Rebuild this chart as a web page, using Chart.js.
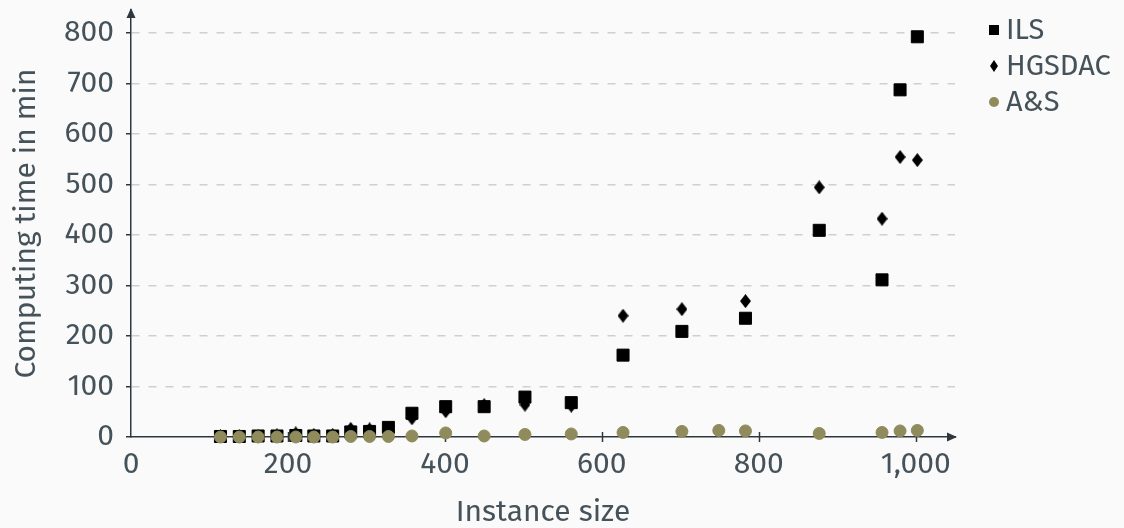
<!DOCTYPE html>
<html lang="en">
<head>
<meta charset="utf-8">
<title>Computing time by instance size</title>
<script src="https://cdn.jsdelivr.net/npm/chart.js@4.4.0/dist/chart.umd.min.js"></script>
<style>
  html, body { margin: 0; padding: 0; background: #fafafa; }
  #wrap { width: 1124px; height: 528px; }
</style>
</head>
<body>
<div id="wrap"><canvas id="timeChart" width="1124" height="528"></canvas></div>
<script>
  // values (minutes), null = no run for that size
  const instanceSizes = [114, 138, 162, 186, 210, 233, 257, 280, 304, 328, 358, 401, 450, 502, 561, 627, 702, 749, 783, 877, 957, 980, 1002];
  const ilsMinutes    = [1, 1, 2, 2, 3, 2, 2, 10, 11, 19, 47, 60, 60, 79, 68, 162, 209, null, 235, 409, 311, 687, 792];
  const hgsdacMinutes = [2, 2, 2, 3, 7, 4, 4, 16, 15, 12, 37, 51, 63, 64, 62, 240, 253, null, 269, 494, 432, 554, 548];
  const asMinutes     = [0, 0, 0, 0, 0, 0, 0, 1, 1, 1, 2, 8, 2, 5, 6, 9, 11, 13, 12, 7, 9, 12, 13];
  const seriesNames = ['ILS', 'HGSDAC', 'A&S'];

  const xRange = [0, 1050];
  const yRange = [0, 845];
  const xStep = 200;
  const yStep = 100;

  const FONT = "'Fira Sans', 'Open Sans', sans-serif";
  const TEXT = '#46525a';
  const AXIS = '#2e383c';
  const OLIVE = '#8f8b5c';

  function shape(kind, w, h, color) {
    const c = document.createElement('canvas');
    c.width = w;
    c.height = h;
    const g = c.getContext('2d');
    g.fillStyle = color;
    g.beginPath();
    if (kind === 'diamond') {
      g.moveTo(w / 2, 0);
      g.lineTo(w, h / 2);
      g.lineTo(w / 2, h);
      g.lineTo(0, h / 2);
      g.closePath();
    } else if (kind === 'circle') {
      g.arc(w / 2, h / 2, w / 2, 0, Math.PI * 2);
    } else {
      g.rect(0, 0, w, h);
    }
    g.fill();
    return c;
  }

  const diamondPoint = shape('diamond', 11, 14, '#000');
  const legendMarkers = [
    shape('rect', 10, 10, '#000'),
    shape('diamond', 8, 12, '#000'),
    shape('circle', 10, 10, OLIVE)
  ];

  function toPoints(values) {
    return instanceSizes.map((x, i) => ({ x: x, y: values[i] }));
  }

  // keep the plot area where the picture has it: no extra room for half labels
  function noLabelPadding(scale) {
    scale.paddingTop = 0;
    scale.paddingBottom = 0;
    scale.paddingLeft = 0;
    scale.paddingRight = 0;
  }

  // arrows at the axis ends and tick marks that cross the x axis
  const axisDecor = {
    id: 'axisDecor',
    beforeDatasetsDraw(chart) {
      const { ctx, chartArea: a, scales: { x } } = chart;
      ctx.save();
      ctx.strokeStyle = AXIS;
      ctx.fillStyle = AXIS;
      ctx.lineWidth = 1.5;
      x.ticks.forEach((t) => {
        if (t.value === 0) {
          return;
        }
        const px = Math.round(x.getPixelForValue(t.value)) + 0.5;
        ctx.beginPath();
        ctx.moveTo(px, a.bottom - 5);
        ctx.lineTo(px, a.bottom + 5);
        ctx.stroke();
      });
      ctx.beginPath();
      ctx.moveTo(a.right + 2, a.bottom);
      ctx.lineTo(a.right - 8, a.bottom - 4.5);
      ctx.lineTo(a.right - 8, a.bottom + 4.5);
      ctx.closePath();
      ctx.fill();
      ctx.beginPath();
      ctx.moveTo(a.left, a.top - 2);
      ctx.lineTo(a.left - 4.5, a.top + 8);
      ctx.lineTo(a.left + 4.5, a.top + 8);
      ctx.closePath();
      ctx.fill();
      ctx.restore();
    }
  };

  // legend to the right of the plot
  const sideLegend = {
    id: 'sideLegend',
    afterDraw(chart) {
      const { ctx } = chart;
      const x = 994;
      const top = 30;
      const step = 36;
      ctx.save();
      ctx.font = '29px ' + FONT;
      ctx.fillStyle = TEXT;
      ctx.textBaseline = 'middle';
      ctx.textAlign = 'left';
      chart.data.datasets.forEach((ds, i) => {
        const y = top + i * step;
        const m = legendMarkers[i];
        ctx.drawImage(m, Math.round(x - m.width / 2), Math.round(y - m.height / 2));
        ctx.fillText(ds.label, x + 12, y + 1);
      });
      ctx.restore();
    }
  };

  Chart.defaults.font.family = FONT;
  Chart.defaults.color = TEXT;

  new Chart(document.getElementById('timeChart'), {
    type: 'scatter',
    data: {
      datasets: [
        {
          label: seriesNames[0],
          data: toPoints(ilsMinutes),
          pointStyle: 'rect',
          pointRadius: 8.5,
          pointBackgroundColor: '#000',
          pointBorderColor: '#000',
          pointBorderWidth: 1,
          order: 3,
          clip: false
        },
        {
          label: seriesNames[1],
          data: toPoints(hgsdacMinutes),
          pointStyle: diamondPoint,
          pointRadius: 7,
          pointBackgroundColor: '#000',
          pointBorderColor: '#000',
          order: 2,
          clip: false
        },
        {
          label: seriesNames[2],
          data: toPoints(asMinutes),
          pointStyle: 'circle',
          pointRadius: 6,
          pointBackgroundColor: OLIVE,
          pointBorderColor: OLIVE,
          pointBorderWidth: 1,
          order: 1,
          clip: false
        }
      ]
    },
    options: {
      responsive: false,
      animation: false,
      devicePixelRatio: 1,
      layout: {
        padding: { top: 10, right: 169, bottom: 0, left: 0 }
      },
      scales: {
        x: {
          type: 'linear',
          min: xRange[0],
          max: xRange[1],
          afterFit(scale) {
            scale.height = 91;
            noLabelPadding(scale);
          },
          ticks: {
            stepSize: xStep,
            includeBounds: false,
            maxRotation: 0,
            padding: 5,
            color: TEXT,
            font: { size: 30 }
          },
          grid: {
            display: false,
            tickLength: 5
          },
          border: {
            display: true,
            color: AXIS,
            width: 1.5
          },
          title: {
            display: true,
            text: 'Instance size',
            color: TEXT,
            font: { size: 30, lineHeight: 1 },
            padding: { top: 0, bottom: 0 }
          }
        },
        y: {
          type: 'linear',
          min: yRange[0],
          max: yRange[1],
          afterFit(scale) {
            scale.width = 131;
            noLabelPadding(scale);
          },
          ticks: {
            stepSize: yStep,
            includeBounds: false,
            padding: 12,
            color: TEXT,
            font: { size: 30 }
          },
          grid: {
            color: (ctx) => (ctx.tick && ctx.tick.value === 0 ? 'rgba(0,0,0,0)' : '#cfcfcf'),
            lineWidth: 1.5,
            tickLength: 5,
            tickColor: AXIS,
            tickWidth: 1.5
          },
          border: {
            display: true,
            color: AXIS,
            width: 1.5,
            dash: [8, 9]
          },
          title: {
            display: true,
            text: 'Computing time in min',
            color: TEXT,
            font: { size: 30, lineHeight: 1 },
            padding: { top: 12, bottom: 0 }
          }
        }
      },
      plugins: {
        legend: { display: false },
        tooltip: { enabled: false }
      }
    },
    plugins: [axisDecor, sideLegend]
  });
</script>
</body>
</html>
